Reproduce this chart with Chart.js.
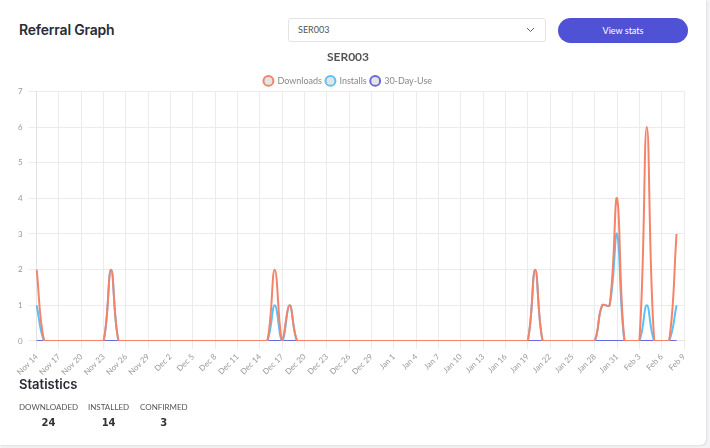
<!DOCTYPE html>
<html>
<head>
<meta charset="utf-8">
<script src="https://cdn.jsdelivr.net/npm/chart.js@4.4.1/dist/chart.umd.min.js"></script>
<style>
  html, body { margin: 0; padding: 0; background: #f3f3f5; }
  body { width: 710px; height: 448px; overflow: hidden; position: relative; font-family: "Lato", sans-serif; }
  .card { position: absolute; left: 0; top: 0; width: 706px; height: 445px; background: #fff; border-radius: 0 0 6px 0; box-shadow: 1px 1px 2px rgba(0,0,0,0.08); }
  .head { position: absolute; left: 19px; top: 21px; font-family: "Inter", sans-serif; font-weight: 600; font-size: 14px; color: #2b2b33; letter-spacing: -0.2px; }
  .sel { position: absolute; left: 288px; top: 18px; width: 258px; height: 24px; border: 1px solid #e3e3e8; border-radius: 3px; box-sizing: border-box; font-size: 9px; color: #555; line-height: 22px; padding-left: 9px; }
  .sel svg { position: absolute; right: 10px; top: 8px; }
  .btn { position: absolute; left: 558px; top: 18px; width: 130px; height: 25px; border-radius: 13px; background: #4f52d4; color: #fff; font-size: 9px; text-align: center; line-height: 25px; }
  .wrap { position: absolute; left: 0; top: 46px; width: 700px; height: 334px; }
  .stats { position: absolute; left: 19px; top: 376px; font-family: "Inter", sans-serif; font-weight: 600; font-size: 13px; color: #2b2b33; }
  .st { position: absolute; top: 402px; font-size: 8px; color: #555; text-align: center; }
  .st b { display: block; font-size: 10px; color: #333; margin-top: 5px; font-family: "DejaVu Sans", sans-serif; }
</style>
</head>
<body>
<div class="card">
  <div class="head">Referral Graph</div>
  <div class="sel">SER003
    <svg width="9" height="6" viewBox="0 0 9 6"><path d="M1 1 L4.5 4.5 L8 1" fill="none" stroke="#666" stroke-width="1"/></svg>
  </div>
  <div class="btn">View stats</div>
  <div class="wrap"><canvas id="chart"></canvas></div>
  <div class="stats">Statistics</div>
  <div class="st" style="left:19px">DOWNLOADED<b>24</b></div>
  <div class="st" style="left:88px">INSTALLED<b>14</b></div>
  <div class="st" style="left:140px">CONFIRMED<b>3</b></div>
</div>
<script>
var dayLabels = [
  'Nov 14','Nov 15','Nov 16','Nov 17','Nov 18','Nov 19','Nov 20','Nov 21','Nov 22','Nov 23','Nov 24','Nov 25','Nov 26','Nov 27','Nov 28','Nov 29','Nov 30',
  'Dec 1','Dec 2','Dec 3','Dec 4','Dec 5','Dec 6','Dec 7','Dec 8','Dec 9','Dec 10','Dec 11','Dec 12','Dec 13','Dec 14','Dec 15','Dec 16','Dec 17','Dec 18','Dec 19','Dec 20','Dec 21','Dec 22','Dec 23','Dec 24','Dec 25','Dec 26','Dec 27','Dec 28','Dec 29','Dec 30','Dec 31',
  'Jan 1','Jan 2','Jan 3','Jan 4','Jan 5','Jan 6','Jan 7','Jan 8','Jan 9','Jan 10','Jan 11','Jan 12','Jan 13','Jan 14','Jan 15','Jan 16','Jan 17','Jan 18','Jan 19','Jan 20','Jan 21','Jan 22','Jan 23','Jan 24','Jan 25','Jan 26','Jan 27','Jan 28','Jan 29','Jan 30','Jan 31',
  'Feb 1','Feb 2','Feb 3','Feb 4','Feb 5','Feb 6','Feb 7','Feb 8','Feb 9'
];

// one value per day, Nov 14 .. Feb 8 (Feb 9 has no data yet)
var downloads = [
  2,0,0,0,0,0,0,0,0,0,2,0,0,0,0,0,0,
  0,0,0,0,0,0,0,0,0,0,0,0,0,0,0,2,0,1,0,0,0,0,0,0,0,0,0,0,0,0,0,
  0,0,0,0,0,0,0,0,0,0,0,0,0,0,0,0,0,0,0,2,0,0,0,0,0,0,0,0,1,1,4,
  0,0,0,6,0,0,0,3
];
var installs = [
  1,0,0,0,0,0,0,0,0,0,2,0,0,0,0,0,0,
  0,0,0,0,0,0,0,0,0,0,0,0,0,0,0,1,0,1,0,0,0,0,0,0,0,0,0,0,0,0,0,
  0,0,0,0,0,0,0,0,0,0,0,0,0,0,0,0,0,0,0,2,0,0,0,0,0,0,0,0,1,1,3,
  0,0,0,1,0,0,0,1
];
var thirtyDayUse = [
  0,0,0,0,0,0,0,0,0,0,0,0,0,0,0,0,0,
  0,0,0,0,0,0,0,0,0,0,0,0,0,0,0,0,0,0,0,0,0,0,0,0,0,0,0,0,0,0,0,
  0,0,0,0,0,0,0,0,0,0,0,0,0,0,0,0,0,0,0,0,0,0,0,0,0,0,0,0,0,0,0,
  0,0,0,0,0,0,0,0
];
var yTicks = [0, 1, 2, 3, 4, 5, 6, 7];

var ctx = document.getElementById('chart').getContext('2d');
Chart.defaults.font.family = 'Lato, sans-serif';

function line(label, data, color) {
  return {
    label: label,
    data: data,
    borderColor: color,
    backgroundColor: 'rgba(0,0,0,0.1)',
    borderWidth: 2,
    pointRadius: 0,
    pointHoverRadius: 0,
    tension: 0.4,
    fill: false
  };
}

// pull the plot a bit closer to the legend
var tightLegend = {
  id: 'tightLegend',
  beforeInit: function(c) {
    var fit = c.legend.fit;
    c.legend.fit = function() {
      fit.bind(c.legend)();
      this.height -= 4;
    };
  }
};

var chart = new Chart(ctx, {
  type: 'line',
  data: {
    labels: dayLabels,
    datasets: [
      line('Downloads', downloads, '#f4836a'),
      line('Installs', installs, '#5cc0f6'),
      line('30-Day-Use', thirtyDayUse, '#6a68dc')
    ]
  },
  plugins: [tightLegend],
  options: {
    responsive: true,
    maintainAspectRatio: false,
    animation: false,
    layout: { padding: { left: 12, right: 16, top: 2, bottom: 0 } },
    plugins: {
      title: {
        display: true,
        text: 'SER003',
        color: '#555',
        font: { size: 12, weight: 'bold' },
        padding: { top: 2, bottom: 8 }
      },
      legend: {
        labels: {
          usePointStyle: true,
          pointStyle: 'circle',
          boxHeight: 7,
          color: '#888',
          font: { size: 9 },
          padding: 4
        }
      },
      tooltip: { enabled: false }
    },
    scales: {
      x: {
        grid: {
          color: function(c) { return c.index % 3 === 0 ? '#ebebeb' : 'rgba(0,0,0,0)'; }
        },
        border: { color: '#e3e3e3' },
        ticks: {
          autoSkip: false,
          maxRotation: 45,
          minRotation: 45,
          color: '#999',
          font: { size: 8 },
          padding: 3,
          callback: function(v, i) { return i % 3 === 0 ? dayLabels[i] : ''; }
        }
      },
      y: {
        min: 0,
        max: 7,
        grid: { color: '#ebebeb' },
        border: { color: '#e3e3e3' },
        afterBuildTicks: function(ax) { ax.ticks = yTicks.map(function(v) { return { value: v }; }); },
        ticks: { color: '#999', font: { size: 8 }, padding: 6 }
      }
    }
  }
});
</script>
</body>
</html>
